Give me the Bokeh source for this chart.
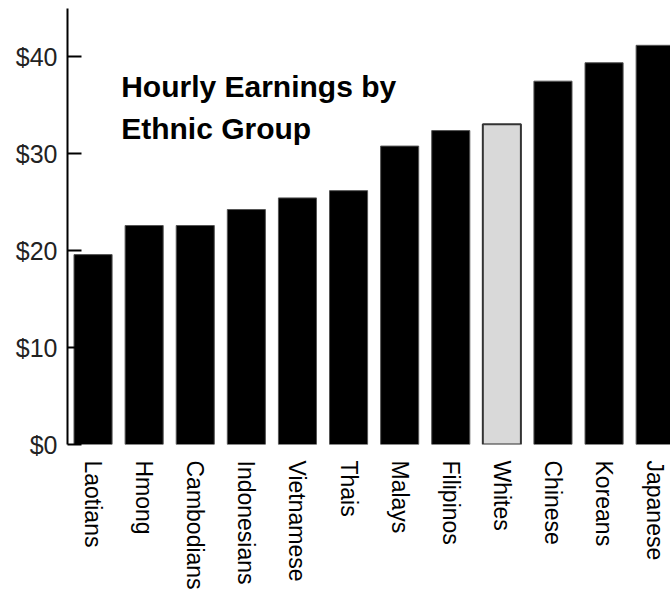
import math
from bokeh.plotting import figure
from bokeh.models import Range1d, FixedTicker, PrintfTickFormatter, Label, ColumnDataSource
from bokeh.embed import file_html
from bokeh.resources import INLINE

groups = ["Laotians", "Hmong", "Cambodians", "Indonesians", "Vietnamese", "Thais",
          "Malays", "Filipinos", "Whites", "Chinese", "Koreans", "Japanese"]
earnings = [19.6, 22.6, 22.6, 24.25, 25.45, 26.2, 30.8, 32.4, 33.05, 37.5, 39.4, 41.2]
highlight = "Whites"
y_ticks = [0, 10, 20, 30, 40]

xs = list(range(len(groups)))
fills = ["#d9d9d9" if g == highlight else "#000000" for g in groups]
lines = ["#333333" if g == highlight else "#555555" for g in groups]
lws = [2 if g == highlight else 1 for g in groups]
src = ColumnDataSource(dict(x=xs, top=earnings, fill=fills, line=lines, lw=lws))

p = figure(width=670, height=602, output_backend="svg", toolbar_location=None,
           x_range=Range1d(-0.5, 11.30), y_range=Range1d(0, 45.0),
           min_border_left=67, min_border_right=0, min_border_top=8, min_border_bottom=158)
p.outline_line_color = None
p.grid.visible = False
p.background_fill_color = "white"

p.vbar(x="x", top="top", bottom=0, width=0.745, source=src,
       fill_color="fill", line_color="line", line_width="lw")

# x axis
p.xaxis.ticker = FixedTicker(ticks=xs)
p.xaxis.major_label_overrides = {i: g for i, g in enumerate(groups)}
p.xaxis.major_label_orientation = -math.pi / 2
p.xaxis.axis_line_color = None
p.xaxis.major_tick_line_color = None
p.xaxis.minor_tick_line_color = None
p.xaxis.major_label_standoff = 10
p.xaxis.major_label_text_font = "Liberation Sans"
p.xaxis.major_label_text_font_size = "23px"
p.xaxis.major_label_text_color = "#000000"

# y axis
p.yaxis.ticker = FixedTicker(ticks=y_ticks)
p.yaxis.formatter = PrintfTickFormatter(format="$%d")
p.yaxis.axis_line_width = 2
p.yaxis.axis_line_color = "#000000"
p.yaxis.major_tick_line_width = 2
p.yaxis.major_tick_line_color = "#000000"
p.yaxis.major_tick_in = 14
p.yaxis.major_tick_out = 0
p.yaxis.minor_tick_line_color = None
p.yaxis.major_label_standoff = 10
p.yaxis.major_label_text_font = "Liberation Sans"
p.yaxis.major_label_text_font_size = "25px"
p.yaxis.major_label_text_color = "#222222"

for txt, yy in [("Hourly Earnings by", 37.0), ("Ethnic Group", 32.65)]:
    p.add_layout(Label(x=0.55, y=yy, text=txt, text_font="Liberation Sans",
                       text_font_style="bold", text_font_size="30px",
                       text_color="#000000", text_baseline="alphabetic"))

open("out.html", "w").write(file_html(p, INLINE))
